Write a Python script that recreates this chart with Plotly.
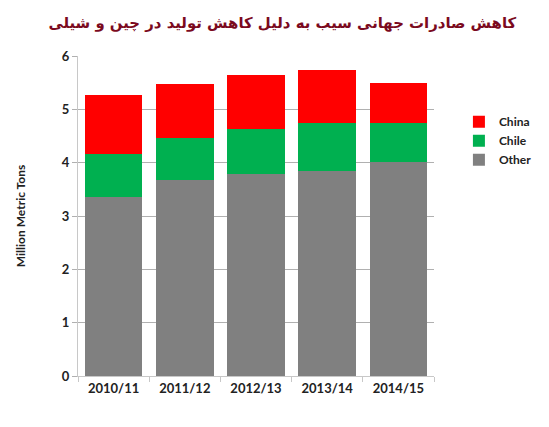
import plotly.graph_objects as go

seasons = ['2010/11', '2011/12', '2012/13', '2013/14', '2014/15']
other = [3.35, 3.68, 3.79, 3.85, 4.01]
chile = [0.82, 0.79, 0.84, 0.89, 0.74]
china = [1.09, 1.01, 1.01, 0.99, 0.74]

fig = go.Figure()
fig.add_trace(go.Bar(x=seasons, y=other, name='Other', marker_color='#808080'))
fig.add_trace(go.Bar(x=seasons, y=chile, name='Chile', marker_color='#00b050'))
fig.add_trace(go.Bar(x=seasons, y=china, name='China', marker_color='#ff0000'))

fig.update_traces(marker_line_width=0)
fig.update_layout(
    barmode='stack',
    bargap=0.19,
    width=541, height=419,
    plot_bgcolor='white',
    paper_bgcolor='white',
    margin=dict(l=65, r=109, t=48, b=51),
    font=dict(family='Lato', color='#222222'),
    title=dict(
        text='کاهش صادرات جهانی سیب به دلیل کاهش تولید در چین و شیلی',
        font=dict(family='DejaVu Sans', size=14.9, color='#7b0a1e', weight='bold'),
        x=0.507, xanchor='center', y=0.964, yanchor='middle'
    ),
    legend=dict(
        x=1.07, y=0.84, xanchor='left', yanchor='top',
        traceorder='reversed',
        font=dict(size=12, weight='bold'),
        itemwidth=30
    ),
    xaxis=dict(
        showline=True, linecolor='#c8c8c8', linewidth=1,
        ticks='outside', tickcolor='#c8c8c8', ticklen=5,
        tickson='boundaries',
        tickfont=dict(size=13, weight='bold')
    ),
    yaxis=dict(
        range=[0, 6], dtick=1,
        showline=True, linecolor='#c8c8c8', linewidth=1,
        showgrid=True, gridcolor='#b0b0b0', gridwidth=1,
        ticks='outside', tickcolor='#b0b0b0', ticklen=5,
        tickfont=dict(size=13, weight='bold'),
        title=dict(text='Million Metric Tons', font=dict(size=12, weight='bold'), standoff=33)
    )
)

fig.write_html("out.html")
